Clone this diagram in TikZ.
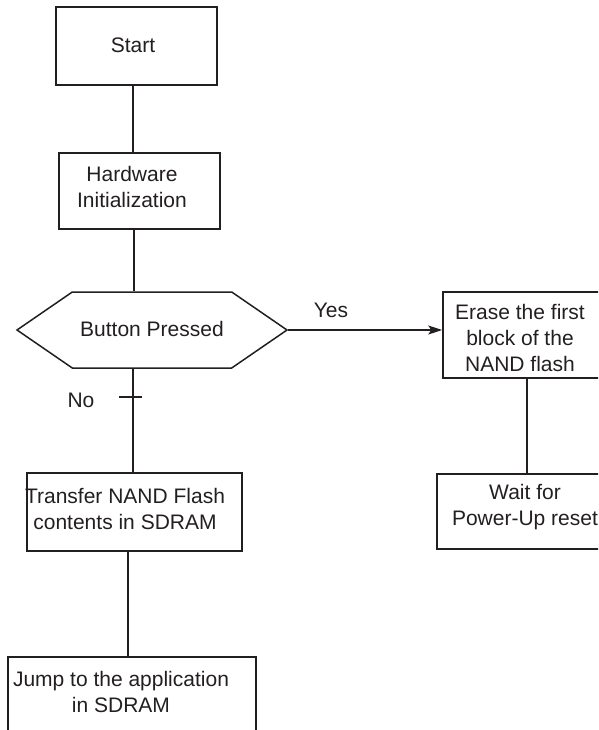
\documentclass[tikz,border=0pt]{standalone}
\usepackage{fontspec}
\setmainfont{Liberation Sans}
\usetikzlibrary{shapes.symbols,arrows.meta}
\definecolor{ink}{HTML}{231F20}
\tikzset{
  box/.style={draw=ink, line width=1.5pt, rectangle, inner sep=0pt},
  lbl/.style={text=ink, align=center, inner sep=0pt, font=\fontsize{21}{26}\selectfont},
  conn/.style={draw=ink, line width=1.5pt},
}
\begin{document}
\begin{tikzpicture}[x=1pt,y=-1pt]
\useasboundingbox (0,0) rectangle (598,730);
\clip (0,0) rectangle (598,730);
% boxes
\node[box, minimum width=161pt, minimum height=78pt] (start) at (136.5,46) {};
\node[box, minimum width=161pt, minimum height=76pt] (hw) at (139.5,191) {};
\node[box, shape=signal, signal to=east and west, signal pointer angle=69,
      minimum width=270pt, minimum height=76pt] (btn) at (152,330) {};
\node[box, minimum width=215pt, minimum height=78pt] (xfer) at (134.5,512) {};
\node[box, minimum width=248pt, minimum height=100pt] (jump) at (132,707) {};
\node[box, minimum width=167pt, minimum height=86pt] (erase) at (526.5,335) {};
\node[box, minimum width=173pt, minimum height=75pt] (wait) at (523.5,511.5) {};
% texts
\node[lbl] (tstart) at (133,45) {Start};
\node[lbl] (thw) at (132,187) {Hardware\\Initialization};
\node[lbl] (tbtn) at (152,329) {Button Pressed};
\node[lbl] (txfer) at (125,509) {Transfer NAND Flash\\contents in SDRAM};
\node[lbl] (tjump) at (121,692) {Jump to the application\\in SDRAM};
\node[lbl] (terase) at (520,338) {Erase the first\\block of the\\NAND flash};
\node[lbl] (twait) at (525,507) {Wait for\\Power-Up reset};
\node[lbl] (yes) at (331,310) {Yes};
\node[lbl] (no) at (81,400) {No};
% spine coordinates
\coordinate (s1) at (133,0);
\coordinate (s2) at (134,0);
\coordinate (s3) at (128,0);
\coordinate (s4) at (527,0);
% connectors
\draw[conn] (start.south -| s1) -- (hw.north -| s1);
\draw[conn] (hw.south -| s2) -- (btn.north -| s2);
\draw[conn] (btn.south -| s1) -- (xfer.north -| s1);
\draw[conn] (xfer.south -| s3) -- (jump.north -| s3);
\draw[conn, -{Stealth[length=14pt,width=9pt,inset=3pt]}] (btn.east) -- (btn.east -| erase.west);
\draw[conn] (erase.south -| s4) -- (wait.north -| s4);
\coordinate (tk1) at (119,397);
\coordinate (tk2) at (142,397);
\draw[conn] (tk1) -- (tk2);
\end{tikzpicture}
\end{document}
